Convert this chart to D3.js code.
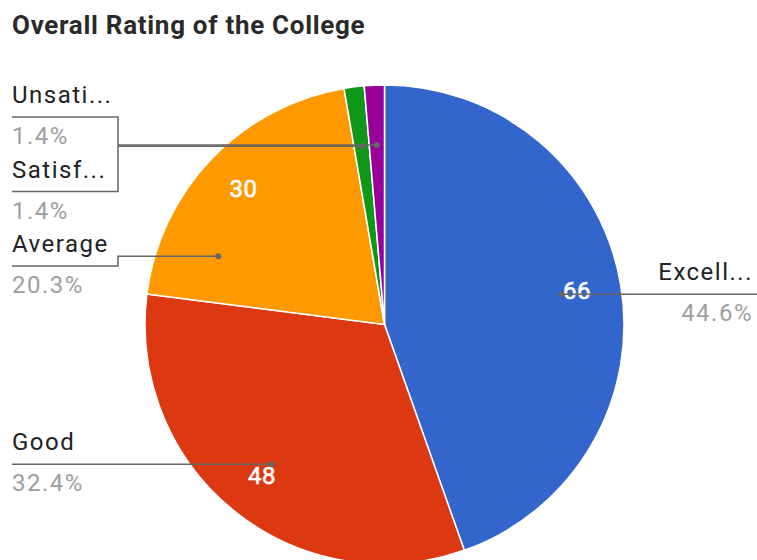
<!DOCTYPE html>
<html>
<head>
<meta charset="utf-8">
<script src="https://cdn.jsdelivr.net/npm/d3@7"></script>
<style>
  body { margin: 0; background: #fff; }
  svg { display: block; font-family: Roboto, Arial, sans-serif; }
</style>
</head>
<body>
<div id="chart"></div>
<script>
let categories = ['Excellent', 'Good', 'Average', 'Satisfactory', 'Unsatisfactory'];
let shortLabels = ['Excell...', 'Good', 'Average', 'Satisf...', 'Unsati...'];
let counts = [66, 48, 30, 2, 2];
let sliceColors = ['#3366cc', '#dc3912', '#ff9900', '#109618', '#990099'];

let width = 757;
let height = 560;
let cx = 384.5, cy = 324.5, radius = 239.5;
let dotR = radius * 0.75;
let textR = radius * 0.815;
let gap = 74.5;
let elbow = 118;

let pieData = categories.map((c, i) => ({ label: c, short: shortLabels[i], value: counts[i] }));
let total = d3.sum(counts);
let pct = d3.format('.1%');

let color = d3.scaleOrdinal().domain(categories).range(sliceColors);

let svg = d3.select('#chart').append('svg')
  .attr('width', width)
  .attr('height', height);

svg.append('text')
  .attr('x', 12)
  .attr('y', 34)
  .attr('font-size', 26)
  .attr('font-weight', 'bold')
  .attr('letter-spacing', 0.7)
  .attr('fill', '#2a2a2a')
  .text('Overall Rating of the College');

let pie = d3.pie().sort(null).value(d => d.value);
let arc = d3.arc().outerRadius(radius).innerRadius(0);
let arcs = pie(pieData);

let g = svg.append('g').attr('transform', `translate(${cx},${cy})`);

g.selectAll('path')
  .data(arcs)
  .enter()
  .append('path')
  .attr('d', arc)
  .attr('fill', d => color(d.data.label))
  .attr('stroke', 'white')
  .style('stroke-width', '1.5px');

// label layout: natural y at dot radius, then pack each side
arcs.forEach(d => {
  d.mid = (d.startAngle + d.endAngle) / 2;
  d.side = d.mid < Math.PI ? 'right' : 'left';
  d.y0 = cy - dotR * Math.cos(d.mid);
});

function pack(items) {
  items.sort((a, b) => a.y0 - b.y0);
  let clusters = [];
  let place = c => {
    let t = d3.mean(c.items, (it, i) => it.y0 - i * gap);
    t = Math.max(117, Math.min(t, height - 40 - (c.items.length - 1) * gap));
    c.top = t;
  };
  items.forEach(it => {
    clusters.push({ items: [it] });
    place(clusters[clusters.length - 1]);
    while (clusters.length > 1) {
      let b = clusters[clusters.length - 1], a = clusters[clusters.length - 2];
      if (a.top + a.items.length * gap > b.top) {
        a.items = a.items.concat(b.items);
        clusters.pop();
        place(a);
      } else break;
    }
  });
  clusters.forEach(c => c.items.forEach((it, i) => { it.ly = c.top + i * gap; }));
}
pack(arcs.filter(d => d.side === 'left'));
pack(arcs.filter(d => d.side === 'right'));

// dot: on dot circle toward label y, kept near the slice middle
arcs.forEach(d => {
  let c = Math.max(-1, Math.min(1, -(d.ly - cy) / dotR));
  let a = d.side === 'right' ? Math.acos(c) : 2 * Math.PI - Math.acos(c);
  let span = d.endAngle - d.startAngle;
  let k = Math.max(0, span / 2 - 15 * Math.PI / 180);
  a = Math.max(d.mid - k, Math.min(d.mid + k, a));
  d.dx = cx + dotR * Math.sin(a);
  d.dy = cy - dotR * Math.cos(a);
});

let leaders = svg.append('g');
arcs.forEach(d => {
  let pts;
  if (d.side === 'left') {
    pts = Math.abs(d.ly - d.dy) < 1
      ? [[12, d.ly], [d.dx, d.dy]]
      : [[12, d.ly], [elbow, d.ly], [elbow, d.dy], [d.dx, d.dy]];
  } else {
    pts = Math.abs(d.ly - d.dy) < 1
      ? [[width, d.ly], [d.dx, d.dy]]
      : [[width, d.ly], [width - elbow, d.ly], [width - elbow, d.dy], [d.dx, d.dy]];
  }
  leaders.append('path')
    .attr('d', d3.line()(pts))
    .attr('fill', 'none')
    .attr('stroke', '#666')
    .attr('stroke-width', 1.5);
  leaders.append('circle')
    .attr('cx', d.dx)
    .attr('cy', d.dy)
    .attr('r', 3)
    .attr('fill', '#666');
});

let labels = svg.append('g').attr('font-size', 24).attr('letter-spacing', 1.5);
labels.selectAll('text.name')
  .data(arcs)
  .enter()
  .append('text')
  .attr('class', 'name')
  .attr('x', d => d.side === 'left' ? 12 : width - 4)
  .attr('y', d => d.ly - 14)
  .attr('text-anchor', d => d.side === 'left' ? 'start' : 'end')
  .attr('fill', '#222')
  .text(d => d.data.short);

labels.selectAll('text.pct')
  .data(arcs)
  .enter()
  .append('text')
  .attr('class', 'pct')
  .attr('x', d => d.side === 'left' ? 12 : width - 4)
  .attr('y', d => d.ly + 27)
  .attr('text-anchor', d => d.side === 'left' ? 'start' : 'end')
  .attr('fill', '#9e9e9e')
  .text(d => pct(d.value / total));

g.selectAll('text.val')
  .data(arcs.filter(d => d.endAngle - d.startAngle > 0.3))
  .enter()
  .append('text')
  .attr('class', 'val')
  .attr('transform', d => `translate(${textR * Math.sin(d.mid)},${-textR * Math.cos(d.mid)})`)
  .attr('text-anchor', 'middle')
  .attr('dy', '0.3em')
  .attr('font-size', 24)
  .attr('fill', 'white')
  .attr('stroke', 'white')
  .attr('stroke-width', 0.6)
  .attr('letter-spacing', 0.5)
  .text(d => d.value);
</script>
</body>
</html>
